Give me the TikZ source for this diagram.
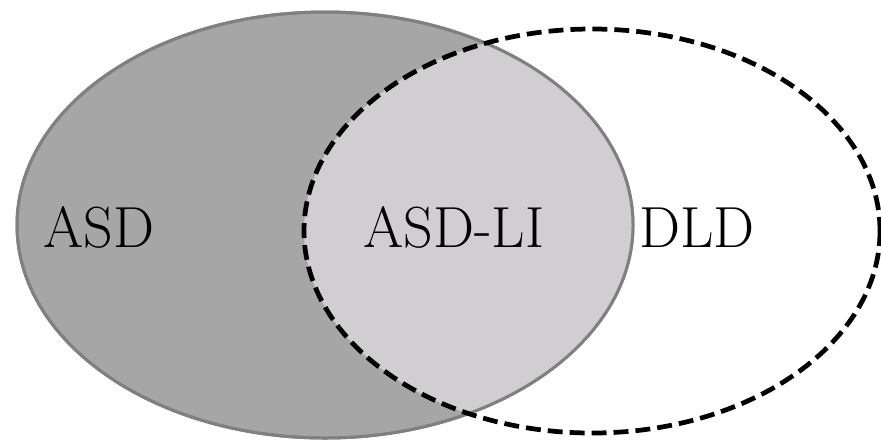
\documentclass[tikz,border=0pt]{standalone}
\definecolor{asdgray}{HTML}{A6A6A6}
\definecolor{asdline}{HTML}{808080}
\definecolor{ligray}{HTML}{D0CED0}
\tikzstyle{set label} = [font=\fontsize{33}{33}\selectfont, anchor=base, inner sep=0pt]
\tikzstyle{asd set} = [fill=asdgray, draw=asdline, line width=1.7pt]
\tikzstyle{dld set} = [draw=black, line width=2.7pt, dash pattern=on 8.5pt off 4pt]
\begin{document}
\begin{tikzpicture}[x=0.02cm, y=-0.02cm]
    \useasboundingbox (0,0) rectangle (881,441);
    % The two sets
    \coordinate (ASDc) at (325,225);
    \coordinate (DLDc) at (592,231);
    \path[asd set] (ASDc) ellipse [x radius=308, y radius=213];
    % Overlap
    \begin{scope}
        \clip (ASDc) ellipse [x radius=308, y radius=213];
        \fill[ligray] (DLDc) ellipse [x radius=288, y radius=202];
    \end{scope}
    \draw[asdline, line width=1.7pt] (ASDc) ellipse [x radius=308, y radius=213];
    \draw[dld set] (DLDc) ellipse [x radius=288, y radius=202];
    % Labels
    \node[set label] (ASD) at (99,247) {ASD};
    \node[set label] (ASDLI) at (454,247) {ASD-LI};
    \node[set label] (DLD) at (697,247) {DLD};
\end{tikzpicture}
\end{document}
